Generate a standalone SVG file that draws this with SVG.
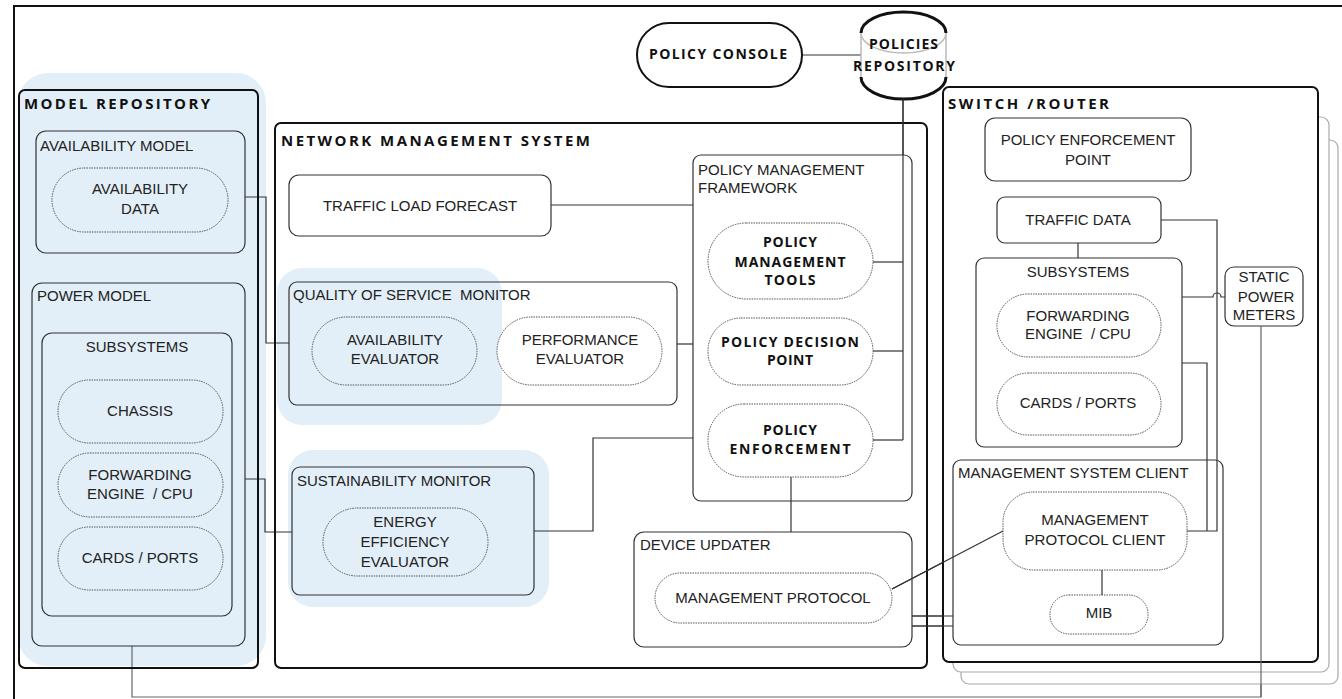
<svg xmlns="http://www.w3.org/2000/svg" width="1342" height="699" viewBox="0 0 1342 699">
<style>
  text { font-family: "Liberation Sans", Arial, sans-serif; font-size: 15px; fill: #222; }
  .c { text-anchor: middle; }
  .b { font-family: "Open Sans", "Liberation Sans", sans-serif; font-weight: bold; font-size: 14px; fill: #111; }
  .t { font-size: 15px; }
  .hl { fill: #E2EFF8; stroke: none; }
  .major { fill: none; stroke: #111; stroke-width: 2; }
  .box { fill: none; stroke: #333; stroke-width: 1.2; }
  .boxw { fill: #fff; stroke: #333; stroke-width: 1.2; }
  .pill { fill: none; stroke: #555; stroke-width: 1; stroke-dasharray: 1.5 1; }
  .pillw { fill: #fff; stroke: #555; stroke-width: 1; stroke-dasharray: 1.5 1; }
  .ln { fill: none; stroke: #333; stroke-width: 1.2; }
  .lng { fill: none; stroke: #666; stroke-width: 1.2; }
  .shadow { fill: #fff; stroke: #aaa; stroke-width: 1.2; }
</style>

<!-- outer frame -->
<rect x="14" y="6" width="1340" height="700" fill="#fff" stroke="#111" stroke-width="2"/>

<!-- highlights -->
<rect class="hl" x="18" y="73" width="248" height="593" rx="30"/>
<rect class="hl" x="277" y="268" width="225" height="157" rx="25"/>
<rect class="hl" x="288" y="450" width="261" height="157" rx="25"/>

<!-- connectors -->
<g id="connectors">
  <path class="ln" d="M802 55 H861" stroke="#777"/>
  <path class="ln" d="M903 99 V440"/>
  <path class="ln" d="M873 262 H903"/>
  <path class="ln" d="M873 351 H903"/>
  <path class="ln" d="M873 440 H903"/>
  <path class="ln" d="M551 205 H693"/>
  <path class="ln" d="M677 344 H693"/>
  <path class="ln" d="M534 531 H593 V438 H693"/>
  <path class="ln" d="M245 197 H266 V343 H289"/>
  <path class="ln" d="M245 479 H265 V532 H292"/>
  <path class="ln" d="M791 477 V532"/>
  <path class="ln" d="M892 589 L1003 531"/>
  <path class="ln" d="M912 616 H953"/>
  <path class="ln" d="M912 626 H953"/>
  <path class="ln" d="M1078 243 V258"/>
  <path class="ln" d="M1161 220 H1217 V531 H1187"/>
  <path class="ln" d="M1182 363 H1207 V531"/>
  <path class="ln" d="M1182 297 H1213 A4 4 0 0 1 1221 297 H1225"/>
  <path class="ln" d="M1102 570 V595"/>
  <path class="lng" d="M1261 326 V697 H132 V646"/>
</g>

<!-- MODEL REPOSITORY -->
<g id="model-repository">
  <rect class="major" x="19" y="90" width="239" height="578" rx="6"/>
  <text class="b t" x="24" y="109" textLength="186" lengthAdjust="spacing">MODEL REPOSITORY</text>
</g>
<g id="availability-model">
  <rect class="box" x="36" y="131" width="209" height="122" rx="10"/>
  <text x="40" y="151">AVAILABILITY MODEL</text>
</g>
<g id="availability-data">
  <rect class="pill" x="52" y="168" width="176" height="64" rx="32"/>
  <text class="c" x="140" y="194">AVAILABILITY</text>
  <text class="c" x="140" y="214">DATA</text>
</g>
<g id="power-model">
  <rect class="box" x="32" y="283" width="213" height="363" rx="10"/>
  <text x="37" y="301">POWER MODEL</text>
</g>
<g id="pm-subsystems">
  <rect class="box" x="42" y="333" width="190" height="283" rx="10"/>
  <text class="c" x="137" y="352">SUBSYSTEMS</text>
</g>
<g id="pm-chassis">
  <rect class="pill" x="58" y="380" width="165" height="63" rx="31"/>
  <text class="c" x="140" y="416">CHASSIS</text>
</g>
<g id="pm-forwarding">
  <rect class="pill" x="58" y="453" width="165" height="64" rx="32"/>
  <text class="c" x="140" y="480">FORWARDING</text>
  <text class="c" x="140" y="499" xml:space="preserve">ENGINE  / CPU</text>
</g>
<g id="pm-cards">
  <rect class="pill" x="58" y="527" width="165" height="63" rx="31"/>
  <text class="c" x="140" y="563">CARDS / PORTS</text>
</g>

<!-- NETWORK MANAGEMENT SYSTEM -->
<g id="nms">
  <rect class="major" x="275" y="123" width="652" height="545" rx="6"/>
  <text class="b t" x="281" y="146" textLength="309" lengthAdjust="spacing">NETWORK MANAGEMENT SYSTEM</text>
</g>
<g id="traffic-load-forecast">
  <rect class="boxw" x="289" y="175" width="262" height="61" rx="10"/>
  <text class="c" x="420" y="211">TRAFFIC LOAD FORECAST</text>
</g>
<g id="qos-monitor">
  <rect class="box" x="289" y="282" width="388" height="123" rx="8"/>
  <text x="293" y="300" xml:space="preserve">QUALITY OF SERVICE  MONITOR</text>
</g>
<g id="availability-evaluator">
  <rect class="pill" x="312" y="317" width="165" height="68" rx="34"/>
  <text class="c" x="395" y="345">AVAILABILITY</text>
  <text class="c" x="395" y="364">EVALUATOR</text>
</g>
<g id="performance-evaluator">
  <rect class="pillw" x="497" y="317" width="165" height="68" rx="34"/>
  <text class="c" x="580" y="345">PERFORMANCE</text>
  <text class="c" x="580" y="364">EVALUATOR</text>
</g>
<g id="sustainability-monitor">
  <rect class="box" x="292" y="467" width="242" height="128" rx="8" fill="#E2EFF8"/>
  <text x="297" y="486">SUSTAINABILITY MONITOR</text>
</g>
<g id="energy-efficiency-evaluator">
  <rect class="pill" x="323" y="508" width="165" height="68" rx="34"/>
  <text class="c" x="405" y="527">ENERGY</text>
  <text class="c" x="405" y="547">EFFICIENCY</text>
  <text class="c" x="405" y="567">EVALUATOR</text>
</g>
<g id="policy-management-framework">
  <rect class="box" x="693" y="155" width="219" height="346" rx="8"/>
  <text x="698" y="175">POLICY MANAGEMENT</text>
  <text x="698" y="193">FRAMEWORK</text>
</g>
<g id="policy-management-tools">
  <rect class="pillw" x="708" y="223" width="165" height="76" rx="38"/>
  <text class="b c" x="790" y="247" textLength="54" lengthAdjust="spacing">POLICY</text>
  <text class="b c" x="790" y="267" textLength="111" lengthAdjust="spacing">MANAGEMENT</text>
  <text class="b c" x="790" y="285" textLength="51" lengthAdjust="spacing">TOOLS</text>
</g>
<g id="policy-decision-point">
  <rect class="pillw" x="708" y="318" width="165" height="67" rx="33"/>
  <text class="b c" x="790" y="347" textLength="138" lengthAdjust="spacing">POLICY DECISION</text>
  <text class="b c" x="790" y="365" textLength="46" lengthAdjust="spacing">POINT</text>
</g>
<g id="policy-enforcement">
  <rect class="pillw" x="708" y="404" width="165" height="73" rx="36"/>
  <text class="b c" x="790" y="435" textLength="54" lengthAdjust="spacing">POLICY</text>
  <text class="b c" x="790" y="454" textLength="121" lengthAdjust="spacing">ENFORCEMENT</text>
</g>
<g id="device-updater">
  <rect class="box" x="634" y="532" width="278" height="115" rx="10"/>
  <text x="640" y="550">DEVICE UPDATER</text>
</g>
<g id="management-protocol">
  <rect class="pillw" x="655" y="573" width="237" height="50" rx="25"/>
  <text class="c" x="773" y="603">MANAGEMENT PROTOCOL</text>
</g>

<!-- POLICY CONSOLE / REPOSITORY -->
<g id="policy-console">
  <rect x="637" y="23" width="165" height="64" rx="32" fill="#fff" stroke="#111" stroke-width="2"/>
  <text class="b c" x="718" y="59" textLength="138" lengthAdjust="spacing">POLICY CONSOLE</text>
</g>
<g id="policies-repository">
  <path d="M861 33 V77 M946 33 V77 M861 33 A42.5 20 0 0 0 946 33" fill="none" stroke="#bbb" stroke-width="1.5"/>
  <path d="M861 33 A42.5 21 0 0 1 946 33" fill="none" stroke="#111" stroke-width="3"/>
  <path d="M861 77 A42.5 22 0 0 0 946 77" fill="none" stroke="#111" stroke-width="3"/>
  <text class="b c" x="903.5" y="49" textLength="69" lengthAdjust="spacing">POLICIES</text>
  <text class="b c" x="904" y="71" textLength="102" lengthAdjust="spacing">REPOSITORY</text>
</g>

<!-- SWITCH / ROUTER -->
<g id="switch-router">
  <rect class="shadow" x="961" y="140" width="377" height="544" rx="8"/>
  <rect class="shadow" x="953" y="117" width="376" height="555" rx="8"/>
  <rect x="943" y="87" width="375" height="575" rx="6" fill="#fff" stroke="#111" stroke-width="2"/>
  <text class="b t" x="948" y="109" textLength="161" lengthAdjust="spacing">SWITCH /ROUTER</text>
</g>
<g id="policy-enforcement-point">
  <rect class="box" x="985" y="118" width="206" height="63" rx="10"/>
  <text class="c" x="1088" y="145">POLICY ENFORCEMENT</text>
  <text class="c" x="1088" y="165">POINT</text>
</g>
<g id="traffic-data">
  <rect class="box" x="997" y="197" width="164" height="46" rx="8"/>
  <text class="c" x="1078" y="225">TRAFFIC DATA</text>
</g>
<g id="sr-subsystems">
  <rect class="box" x="976" y="258" width="206" height="189" rx="8"/>
  <text class="c" x="1078" y="277">SUBSYSTEMS</text>
</g>
<g id="sr-forwarding">
  <rect class="pill" x="997" y="294" width="164" height="63" rx="31"/>
  <text class="c" x="1078" y="321">FORWARDING</text>
  <text class="c" x="1078" y="339" xml:space="preserve">ENGINE  / CPU</text>
</g>
<g id="sr-cards">
  <rect class="pill" x="997" y="373" width="164" height="62" rx="31"/>
  <text class="c" x="1078" y="408">CARDS / PORTS</text>
</g>
<g id="static-power-meters">
  <rect class="boxw" x="1225" y="267" width="78" height="59" rx="9"/>
  <text class="c" x="1264" y="282">STATIC</text>
  <text class="c" x="1266" y="302">POWER</text>
  <text class="c" x="1264" y="320">METERS</text>
</g>
<g id="management-system-client">
  <rect class="box" x="953" y="460" width="270" height="185" rx="8"/>
  <text x="958" y="478">MANAGEMENT SYSTEM CLIENT</text>
</g>
<g id="management-protocol-client">
  <rect class="pillw" x="1003" y="492" width="184" height="78" rx="30"/>
  <text class="c" x="1095" y="525">MANAGEMENT</text>
  <text class="c" x="1095" y="545">PROTOCOL CLIENT</text>
</g>
<g id="mib">
  <rect class="pillw" x="1050" y="595" width="98" height="39" rx="19"/>
  <text class="c" x="1099" y="618">MIB</text>
</g>

<!-- connectors that pass over the switch box -->
<g id="connectors-over">
  <path class="ln" d="M1078 243 V258"/>
  <path class="ln" d="M1161 220 H1217 V531 H1187"/>
  <path class="ln" d="M1182 363 H1207 V531"/>
  <path class="ln" d="M1182 297 H1213 A4 4 0 0 1 1221 297 H1225"/>
  <path class="ln" d="M1102 570 V595"/>
  <path class="lng" d="M1261 326 V697"/>
  <path class="ln" d="M903 99 V155"/>
  <path class="ln" d="M892 589 L1003 531"/>
  <path class="ln" d="M912 616 H953"/>
  <path class="ln" d="M912 626 H953"/>
</g>
</svg>
